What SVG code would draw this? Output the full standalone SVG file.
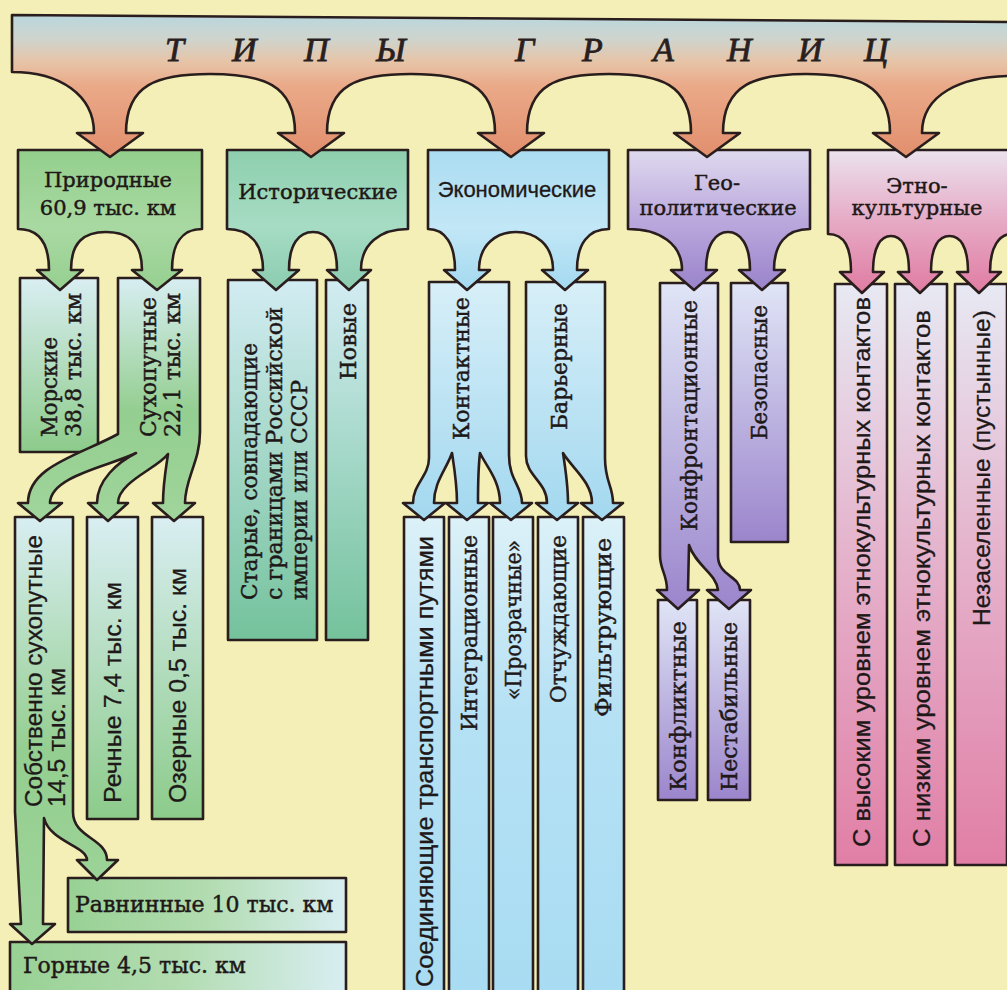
<svg xmlns="http://www.w3.org/2000/svg" width="1007" height="990" viewBox="0 0 1007 990">
<defs>
<linearGradient id="gBan" gradientUnits="userSpaceOnUse" x1="0" y1="15" x2="0" y2="157"><stop offset="0" stop-color="#b9d7de"/><stop offset="0.17" stop-color="#cfd4cd"/><stop offset="0.33" stop-color="#e7c4a7"/><stop offset="0.5" stop-color="#eaa988"/><stop offset="1" stop-color="#e28f6d"/></linearGradient>
<linearGradient id="gNat" x1="0" y1="0" x2="0" y2="1"><stop offset="0" stop-color="#93cf8c"/><stop offset="0.55" stop-color="#a9d9a2"/><stop offset="1" stop-color="#96cf90"/></linearGradient>
<linearGradient id="gHis" x1="0" y1="0" x2="0" y2="1"><stop offset="0" stop-color="#8ecfae"/><stop offset="0.55" stop-color="#a6dcc4"/><stop offset="1" stop-color="#8bccaf"/></linearGradient>
<linearGradient id="gEco" x1="0" y1="0" x2="0" y2="1"><stop offset="0" stop-color="#abdcf1"/><stop offset="0.55" stop-color="#c2e7f6"/><stop offset="1" stop-color="#a4d9f0"/></linearGradient>
<linearGradient id="gGeo" x1="0" y1="0" x2="0" y2="1"><stop offset="0" stop-color="#dfd9ef"/><stop offset="0.5" stop-color="#bba9dd"/><stop offset="1" stop-color="#9a83cb"/></linearGradient>
<linearGradient id="gEth" x1="0" y1="0" x2="0" y2="1"><stop offset="0" stop-color="#ebe2ee"/><stop offset="0.5" stop-color="#e6aac5"/><stop offset="1" stop-color="#e07ca2"/></linearGradient>
<linearGradient id="gNatC" x1="0" y1="0" x2="0" y2="1"><stop offset="0" stop-color="#d9eef2"/><stop offset="1" stop-color="#8ccb8a"/></linearGradient>
<linearGradient id="gNatS" x1="0" y1="0" x2="0" y2="1"><stop offset="0" stop-color="#d8eef2"/><stop offset="0.55" stop-color="#94ce90"/><stop offset="1" stop-color="#a0d59b"/></linearGradient>
<linearGradient id="gNatH" x1="0" y1="0" x2="1" y2="0"><stop offset="0" stop-color="#98d194"/><stop offset="0.5" stop-color="#b2dcb0"/><stop offset="1" stop-color="#d8eef2"/></linearGradient>
<linearGradient id="gHisC" x1="0" y1="0" x2="0" y2="1"><stop offset="0" stop-color="#d2ecf2"/><stop offset="1" stop-color="#74c29c"/></linearGradient>
<linearGradient id="gEcoC" x1="0" y1="0" x2="0" y2="1"><stop offset="0" stop-color="#d7eff8"/><stop offset="1" stop-color="#a3d8ef"/></linearGradient>
<linearGradient id="gEcoL" x1="0" y1="0" x2="0" y2="1"><stop offset="0" stop-color="#dcf1f8"/><stop offset="0.4" stop-color="#b6e1f4"/><stop offset="1" stop-color="#a8dcf2"/></linearGradient>
<linearGradient id="gGeoC" x1="0" y1="0" x2="0" y2="1"><stop offset="0" stop-color="#e0e5f6"/><stop offset="1" stop-color="#9b85cc"/></linearGradient>
<linearGradient id="gEthC" x1="0" y1="0" x2="0" y2="1"><stop offset="0" stop-color="#e7e9f3"/><stop offset="0.45" stop-color="#e5b4cd"/><stop offset="1" stop-color="#e17fa6"/></linearGradient>
<style>
.o{stroke:#2a1d1d;stroke-width:2.6;stroke-linejoin:round}
.s{font-family:"DejaVu Serif","Liberation Serif",serif;font-size:21px;fill:#1e1818;stroke:#1e1818;stroke-width:0.45}
.v{font-size:22px}
.ss{font-family:"Liberation Sans","DejaVu Sans",sans-serif;font-size:24.5px;fill:#1e1818;stroke:#1e1818;stroke-width:0.3}
.c{text-anchor:middle}
.t{font-family:"Liberation Serif",serif;font-style:italic;font-size:34px;fill:#2a1f1f;stroke:#2a1f1f;stroke-width:0.8}
</style>
</defs>
<rect width="1007" height="990" fill="#f3efb6"/>

<g id="n-gornye"><rect class="o" x="10" y="942" width="336" height="60" fill="url(#gNatH)"/><text class="s" x="23" y="973" style="font-size:22px">Горные 4,5 тыс. км</text></g>
<g id="n-ravninnye"><rect class="o" x="68" y="878" width="278" height="54" fill="url(#gNatH)"/><text class="s" x="75" y="912" style="font-size:22px">Равнинные 10 тыс. км</text></g>

<g id="n-sobstvenno"><path class="o" fill="url(#gNatS)" d="M15,517 L73,517 L73,812 C73,838 107,838 107,860 L118,860 L97,880 L77,860 L87,860 C87,846 50,842 44,818 L43,924 L55,924 L32,944 L10,924 L21,924 L15,812 Z"/>
<text class="ss" transform="translate(42,807) rotate(-90)" textLength="272" lengthAdjust="spacingAndGlyphs">Собственно сухопутные</text><text class="ss" transform="translate(65,807) rotate(-90)" textLength="139" lengthAdjust="spacingAndGlyphs">14,5 тыс. км</text></g>
<g id="n-rechnye"><rect class="o" x="87" y="517" width="51" height="302" fill="url(#gNatC)"/><text class="ss" transform="translate(121,803) rotate(-90)" textLength="221" lengthAdjust="spacingAndGlyphs">Речные 7,4 тыс. км</text></g>
<g id="n-ozernye"><rect class="o" x="152" y="517" width="51" height="302" fill="url(#gNatC)"/><text class="ss" transform="translate(186,803) rotate(-90)" textLength="235" lengthAdjust="spacingAndGlyphs">Озерные 0,5 тыс. км</text></g>

<g id="n-soed"><rect class="o" x="404" y="517" width="40" height="480" fill="url(#gEcoL)"/><text class="ss" transform="translate(433,987) rotate(-90)" textLength="451" lengthAdjust="spacingAndGlyphs">Соединяющие транспортными путями</text></g>
<g id="n-integr"><rect class="o" x="449" y="517" width="40" height="480" fill="url(#gEcoL)"/><text class="s v" transform="translate(477,731) rotate(-90)" textLength="196" lengthAdjust="spacingAndGlyphs">Интеграционные</text></g>
<g id="n-prozr"><rect class="o" x="493" y="517" width="40" height="480" fill="url(#gEcoL)"/><text class="s v" transform="translate(521,700) rotate(-90)" textLength="160" lengthAdjust="spacingAndGlyphs">«Прозрачные»</text></g>
<g id="n-otchuzh"><rect class="o" x="538" y="517" width="40" height="480" fill="url(#gEcoL)"/><text class="s v" transform="translate(566,703) rotate(-90)" textLength="168" lengthAdjust="spacingAndGlyphs">Отчуждающие</text></g>
<g id="n-filtr"><rect class="o" x="583" y="517" width="41" height="480" fill="url(#gEcoL)"/><text class="s v" transform="translate(611,717) rotate(-90)" textLength="179" lengthAdjust="spacingAndGlyphs">Фильтрующие</text></g>
<g id="n-konflikt"><rect class="o" x="658" y="600" width="39" height="200" fill="url(#gGeoC)"/><text class="s v" transform="translate(686,791) rotate(-90)" textLength="170" lengthAdjust="spacingAndGlyphs">Конфликтные</text></g>
<g id="n-nestab"><rect class="o" x="708" y="600" width="42" height="200" fill="url(#gGeoC)"/><text class="s v" transform="translate(737,791) rotate(-90)" textLength="169" lengthAdjust="spacingAndGlyphs">Нестабильные</text></g>

<g id="n-morskie"><rect class="o" x="20" y="278" width="78" height="174" fill="url(#gNatC)"/><text class="s v" transform="translate(57,437) rotate(-90)" textLength="100" lengthAdjust="spacingAndGlyphs">Морские</text><text class="s v" transform="translate(81,437) rotate(-90)" textLength="144" lengthAdjust="spacingAndGlyphs">38,8 тыс. км</text></g>
<g id="n-suhoput"><path class="o" fill="url(#gNatS)" d="M118,278 L200,278 L200,432 C200,462 185,478 185,503 L195,503 L174,521 L153,503 L163,503 C163,484 166,468 168,454 C158,468 118,482 118,503 L128,503 L108,521 L88,503 L97,503 C97,480 118,462 136,453 C110,466 50,476 50,503 L62,503 L40,521 L18,503 L28,503 C28,466 80,455 118,434 Z"/>
<text class="s v" transform="translate(156,437) rotate(-90)" textLength="140" lengthAdjust="spacingAndGlyphs">Сухопутные</text><text class="s v" transform="translate(180,437) rotate(-90)" textLength="144" lengthAdjust="spacingAndGlyphs">22,1 тыс. км</text></g>
<g id="n-starye"><rect class="o" x="228" y="280" width="89" height="360" fill="url(#gHisC)"/><text class="s v" transform="translate(257,600) rotate(-90)" textLength="257" lengthAdjust="spacingAndGlyphs">Старые, совпадающие</text><text class="s v" transform="translate(282,600) rotate(-90)" textLength="293" lengthAdjust="spacingAndGlyphs">с границами Российской</text><text class="s v" transform="translate(307,600) rotate(-90)" textLength="220" lengthAdjust="spacingAndGlyphs">империи или СССР</text></g>
<g id="n-novye"><rect class="o" x="326" y="280" width="42" height="360" fill="url(#gHisC)"/><text class="s v" transform="translate(356,380) rotate(-90)" textLength="77" lengthAdjust="spacingAndGlyphs">Новые</text></g>
<g id="n-kontakt"><path class="o" fill="url(#gEcoC)" d="M429,282 L509,282 L509,455 C509,480 522,486 522,503 L532,503 L511,520 L490,503 L500,503 C500,480 486,466 480,453 C478,470 478,490 478,503 L488,503 L467,520 L446,503 L457,503 C457,484 454,466 452,453 C446,470 434,482 434,503 L445,503 L424,520 L403,503 L413,503 C413,484 429,476 429,458 Z"/>
<text class="s v" transform="translate(469,440) rotate(-90)" textLength="143" lengthAdjust="spacingAndGlyphs">Контактные</text></g>
<g id="n-barier"><path class="o" fill="url(#gEcoC)" d="M526,282 L605,282 L605,458 C605,482 613,486 613,503 L623,503 L602,520 L581,503 L592,503 C592,482 572,468 563,453 C566,472 568,488 568,503 L578,503 L557,520 L536,503 L547,503 C547,482 526,476 526,456 Z"/>
<text class="s v" transform="translate(567,430) rotate(-90)" textLength="127" lengthAdjust="spacingAndGlyphs">Барьерные</text></g>
<g id="n-konfront"><path class="o" fill="url(#gGeoC)" d="M660,283 L718,283 L718,556 C718,576 740,576 740,590 L751,590 L729,609 L707,590 L718,590 C716,573 696,566 689,545 L688,590 L699,590 L678,609 L657,590 L667,590 C667,574 660,570 660,555 Z"/>
<text class="s v" transform="translate(697,531) rotate(-90)" textLength="231" lengthAdjust="spacingAndGlyphs">Конфронтационные</text></g>
<g id="n-bezopas"><rect class="o" x="731" y="283" width="57" height="259" fill="url(#gGeoC)"/><text class="s v" transform="translate(767,440) rotate(-90)" textLength="135" lengthAdjust="spacingAndGlyphs">Безопасные</text></g>
<g id="n-vysok"><rect class="o" x="835" y="284" width="52" height="581" fill="url(#gEthC)"/><text class="ss" transform="translate(870,847) rotate(-90)" textLength="550" lengthAdjust="spacingAndGlyphs">С высоким уровнем этнокультурных контактов</text></g>
<g id="n-nizk"><rect class="o" x="895" y="284" width="52" height="581" fill="url(#gEthC)"/><text class="ss" transform="translate(930,847) rotate(-90)" textLength="537" lengthAdjust="spacingAndGlyphs">С низким уровнем этнокультурных контактов</text></g>
<g id="n-nezasel"><rect class="o" x="955" y="284" width="52" height="581" fill="url(#gEthC)"/><text class="ss" transform="translate(990,626) rotate(-90)" textLength="316" lengthAdjust="spacingAndGlyphs">Незаселенные (пустынные)</text></g>

<g id="n-prirod"><path class="o" fill="url(#gNat)" d="M18,150 L202,150 L202,229 C182,229 172,244 172,270 L182,270 L157,290 L132,270 L142,270 C142,242 128,232 106,232 C84,232 71,242 71,270 L83,270 L60,290 L37,270 L49,270 C49,244 40,229 18,229 Z"/>
<text class="s c" x="108" y="187">Природные</text><text class="s c" x="108" y="215">60,9 тыс. км</text></g>
<g id="n-istor"><path class="o" fill="url(#gHis)" d="M227,150 L408,150 L408,229 C380,229 361,244 361,270 L371,270 L349,290 L327,270 L337,270 C337,244 327,232 313,232 C299,232 289,244 289,270 L299,270 L276,290 L253,270 L263,270 C263,244 250,229 227,229 Z"/>
<text class="s c" x="318" y="199">Исторические</text></g>
<g id="n-ekon"><path class="o" fill="url(#gEco)" d="M428,150 L609,150 L609,229 C588,229 577,244 577,270 L588,270 L565,290 L542,270 L553,270 C553,244 535,232 516,232 C497,232 479,244 479,270 L490,270 L467,290 L444,270 L455,270 C455,244 445,229 428,229 Z"/>
<text class="ss c" x="517" y="197" style="font-size:22px">Экономические</text></g>
<g id="n-geo"><path class="o" fill="url(#gGeo)" d="M628,150 L810,150 L810,229 C786,229 774,244 774,270 L785,270 L762,290 L739,270 L750,270 C750,244 740,232 728,232 C716,232 706,244 706,270 L717,270 L694,290 L671,270 L682,270 C682,244 660,229 628,229 Z"/>
<text class="s c" x="717" y="190">Гео-</text><text class="s c" x="718" y="215">политические</text></g>
<g id="n-etno"><path class="o" fill="url(#gEth)" d="M828,150 L1012,150 L1012,234 C999,234 990,247 990,272 L1001,272 L979,293 L957,272 L968,272 C968,246 960,236 949.5,236 C939,236 931,246 931,272 L942,272 L920,293 L898,272 L909,272 C909,246 901,236 891,236 C881,236 873,246 873,272 L884,272 L862,293 L840,272 L851,272 C851,248 845,234 828,234 Z"/>
<text class="s c" x="917" y="193">Этно-</text><text class="s c" x="917" y="215">культурные</text></g>

<g id="n-tipy"><path class="o" fill="url(#gBan)" d="M12,15 L1012,22 L1012,76 C960,76 922,95 922,133 L939,133 L906,157 L873,133 L890,133 C890,84 856,74 806,74 C756,74 723,84 723,133 L740,133 L707,157 L674,133 L691,133 C691,84 660,74 609,74 C558,74 527,84 527,133 L544,133 L511,157 L478,133 L495,133 C495,84 463,74 411,74 C359,74 327,84 327,133 L344,133 L311,157 L278,133 L295,133 C295,84 262,74 210,74 C158,74 126,84 126,133 L143,133 L110,157 L77,133 L94,133 C94,95 60,72 12,72 Z"/>
<text class="t" x="165 232 304 376 440 515 582 653 727 798 864" y="61">ТИПЫ ГРАНИЦ</text></g>
<g id="connectors"/>
</svg>
